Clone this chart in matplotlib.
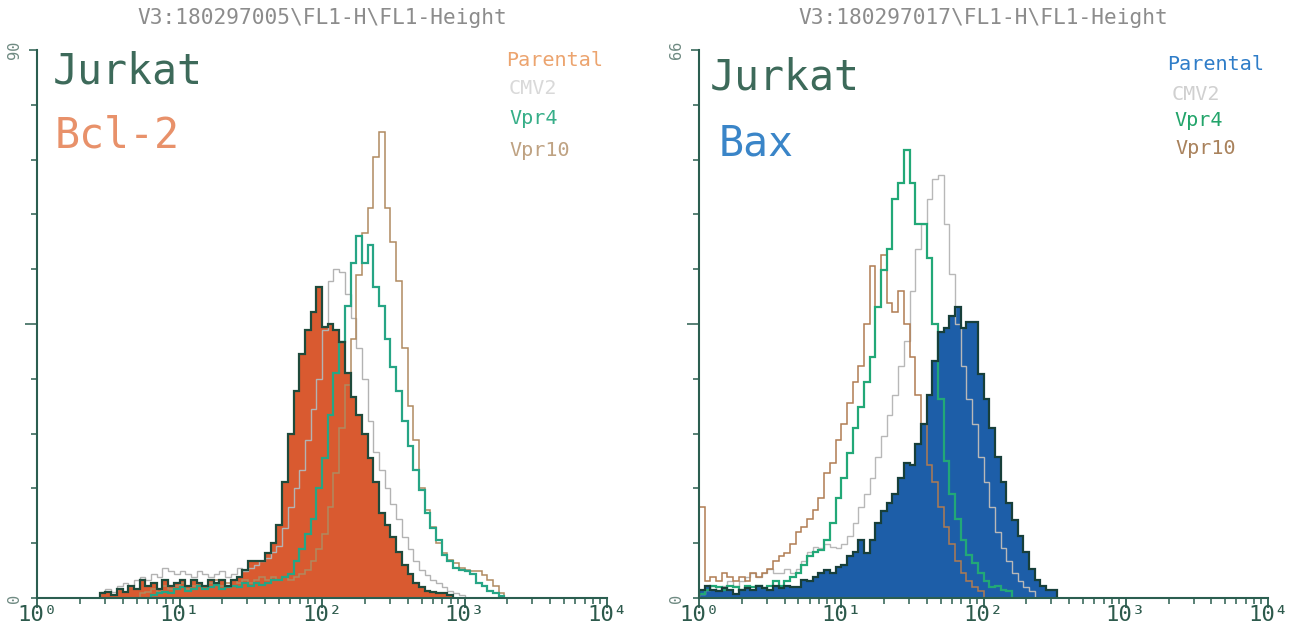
import numpy as np
import matplotlib
matplotlib.use("Agg")
import matplotlib.pyplot as plt

plt.rcParams['font.family'] = ['DejaVu Sans Mono', 'DejaVu Sans']

# ---------------- data ----------------
BIN_DECADES = 0.04   # width of one histogram channel, in decades of FL1-H

titles = ["V3:180297005\\FL1-H\\FL1-Height", "V3:180297017\\FL1-H\\FL1-Height"]
cell_line = "Jurkat"
proteins = ["Bcl-2", "Bax"]
series_names = ["Parental", "CMV2", "Vpr4", "Vpr10"]
y_max = [90, 66]
x_tick_values = [1, 10, 100, 1000, 10000]
x_tick_labels = ["10⁰", "10¹", "10²", "10³", "10⁴"]

# Left panel: Bcl-2 (counts per channel, first channel index given separately)
bcl2_parental_first = 11
bcl2_parental = [0.8, 1.0, 0.5, 1.5, 1.0, 2.0, 1.5, 3.0, 2.0, 2.5, 1.5, 3.0, 2.0, 2.5,
                 3.0, 2.0, 3.0, 2.5, 2.0, 3.0, 2.5, 3.0, 2.0, 3.0, 3.5, 4.6, 6.0, 6.0,
                 6.0, 7.4, 9.0, 12.0, 19.0, 27.0, 34.0, 40.0, 44.0, 47.0, 51.0, 44.5,
                 45.0, 44.0, 42.0, 37.0, 33.0, 30.0, 27.0, 23.0, 19.0, 14.0, 12.0, 10.0,
                 7.5, 5.5, 4.0, 2.5, 1.8, 1.2, 1.0, 0.8, 0.8, 0.5]
bcl2_cmv2_first = 11
bcl2_cmv2 = [1.0, 1.5, 1.0, 2.0, 2.5, 2.0, 3.0, 3.5, 3.0, 4.0, 3.5, 5.0, 4.5, 4.0,
             4.5, 4.0, 3.5, 4.5, 4.0, 3.5, 4.0, 4.5, 3.5, 4.0, 5.0, 4.5, 5.0, 5.5,
             6.0, 6.5, 7.5, 8.5, 11.5, 15.0, 18.0, 21.0, 26.0, 31.0, 36.0, 44.0,
             52.0, 54.0, 53.5, 50.0, 46.0, 41.0, 36.0, 29.0, 24.0, 21.0, 18.0, 15.5,
             13.0, 10.0, 8.0, 6.0, 4.6, 3.8, 3.0, 2.5, 1.8, 1.2, 0.8, 0.5]
bcl2_vpr4_first = 20
bcl2_vpr4 = [0.5, 0.8, 1.0, 0.8, 1.5, 1.8, 1.2, 1.5, 2.0, 1.5, 1.8, 2.2, 1.5, 1.8,
             2.0, 1.8, 2.5, 2.0, 2.5, 2.2, 2.5, 3.0, 3.0, 3.5, 4.0, 6.0, 8.0, 10.5,
             13.0, 18.0, 23.0, 30.0, 37.0, 42.0, 48.0, 55.0, 59.5, 55.0, 58.0, 51.0,
             48.0, 42.5, 38.0, 34.0, 29.0, 25.0, 21.0, 17.8, 14.0, 11.5, 9.5, 7.0,
             6.0, 5.0, 4.6, 4.5, 4.0, 2.5, 2.0, 1.2, 0.8, 0.4]
bcl2_vpr10_first = 18
bcl2_vpr10 = [0.8, 1.0, 1.5, 1.0, 2.0, 1.5, 2.0, 2.5, 1.5, 2.0, 2.5, 2.0, 2.5, 3.0,
              2.0, 2.5, 3.0, 2.5, 3.0, 2.5, 3.0, 3.5, 3.0, 3.5, 3.0, 3.5, 3.0, 3.5,
              4.0, 4.6, 6.0, 8.0, 10.5, 15.0, 20.5, 28.0, 35.0, 42.5, 53.0, 60.0,
              64.0, 72.5, 76.5, 64.0, 58.5, 52.0, 41.0, 31.5, 26.0, 18.0, 14.5, 11.7,
              9.0, 7.4, 6.2, 5.8, 5.0, 4.6, 4.5, 4.5, 3.8, 3.0, 2.0, 0.8]

# Right panel: Bax
bax_parental_first = 0
bax_parental = [1.0, 1.5, 1.0, 0.8, 1.2, 1.0, 0.5, 1.0, 1.2, 1.0, 1.5, 1.2, 1.0, 1.5,
                1.2, 1.5, 1.3, 1.3, 2.2, 2.0, 2.5, 3.0, 3.4, 3.0, 3.7, 4.0, 5.0, 5.5,
                7.0, 5.4, 7.0, 9.0, 10.5, 11.5, 12.5, 14.5, 16.3, 16.0, 18.5, 21.0,
                24.5, 28.5, 32.0, 32.5, 34.0, 35.0, 32.5, 33.2, 33.2, 27.0, 24.0, 20.5,
                17.0, 14.0, 11.5, 9.4, 7.5, 5.5, 3.5, 2.2, 1.5, 1.0, 1.0]
bax_cmv2_first = 0
bax_cmv2 = [0.5, 1.0, 1.5, 1.0, 1.5, 2.0, 1.5, 2.0, 2.5, 3.0, 2.5, 3.0, 3.5, 3.0,
            3.0, 3.5, 3.0, 3.5, 4.5, 5.5, 6.2, 6.0, 6.5, 6.2, 6.0, 6.5, 7.5, 9.0,
            11.0, 12.5, 14.5, 17.0, 19.5, 22.0, 24.5, 28.0, 31.0, 37.0, 42.0, 45.0,
            48.0, 50.5, 51.0, 45.0, 39.0, 33.0, 28.0, 24.0, 21.0, 17.0, 14.0, 11.0,
            8.0, 6.0, 4.5, 3.0, 2.0, 1.3, 0.8]
bax_vpr4_first = 0
bax_vpr4 = [0.5, 1.0, 1.5, 1.3, 1.0, 1.5, 1.3, 1.0, 1.5, 1.3, 1.5, 1.2, 1.5, 2.0,
            1.5, 2.0, 2.5, 3.0, 4.0, 5.0, 5.5, 5.8, 7.0, 9.0, 12.0, 14.5, 17.5, 20.5,
            23.0, 26.0, 29.0, 35.0, 39.5, 42.0, 48.0, 50.0, 54.0, 50.0, 45.0, 45.0,
            41.0, 33.0, 24.0, 16.5, 12.5, 9.5, 7.0, 5.2, 4.2, 3.0, 2.0, 1.3, 1.5,
            1.0, 0.8]
bax_vpr10_first = 0
bax_vpr10 = [11.0, 2.0, 2.5, 2.0, 3.0, 2.5, 2.0, 2.5, 2.0, 3.0, 2.5, 3.0, 3.5, 4.5,
             5.0, 5.4, 6.5, 7.9, 8.6, 9.5, 10.6, 12.0, 15.0, 16.3, 19.0, 21.0, 23.5,
             26.0, 28.0, 33.0, 40.0, 35.0, 41.3, 35.5, 34.5, 37.0, 33.0, 29.0, 24.5,
             21.0, 16.0, 14.0, 11.0, 8.5, 6.5, 4.5, 3.0, 2.0, 1.3, 0.8]

# ---------------- styles ----------------
W, H = 1291, 630
AXIS_COLOR = "#2b5e50"
panels = [
    dict(ax_px=(37, 607), title=titles[0], ymax=y_max[0], protein=proteins[0],
         protein_color="#e8916a",
         data=[(bcl2_parental_first, bcl2_parental), (bcl2_cmv2_first, bcl2_cmv2),
               (bcl2_vpr4_first, bcl2_vpr4), (bcl2_vpr10_first, bcl2_vpr10)],
         fill="#d95a30", fill_edge="#1f4a3b",
         line_colors=[None, "#b3b3b3", "#26a585", "#b08a60"],
         legend_colors=["#eca46f", "#d9d9d9", "#36ae88", "#bfa282"],
         legend_px=[(506, 61), (509, 89), (509, 119), (509, 151)],
         jurkat_px=(53, 72), protein_px=(55, 136), title_x=322),
    dict(ax_px=(699, 1268), title=titles[1], ymax=y_max[1], protein=proteins[1],
         protein_color="#3a85c8",
         data=[(bax_parental_first, bax_parental), (bax_cmv2_first, bax_cmv2),
               (bax_vpr4_first, bax_vpr4), (bax_vpr10_first, bax_vpr10)],
         fill="#1d5ea8", fill_edge="#173f3a",
         line_colors=[None, "#b8b8b8", "#22a877", "#b07c52"],
         legend_colors=["#2f7dc8", "#d0d0d0", "#22a46a", "#a9825c"],
         legend_px=[(1167, 64), (1172, 95), (1174, 121), (1175, 148)],
         jurkat_px=(710, 78), protein_px=(719, 144), title_x=983),
]

fig = plt.figure(figsize=(W / 100, H / 100), dpi=100)
fig.patch.set_facecolor("white")

y_top_px, y_bot_px = 50, 598


def edges(first, n):
    return 10.0 ** (BIN_DECADES * np.arange(first, first + n + 1))


for p in panels:
    x0, x1 = p["ax_px"]
    ax = fig.add_axes([x0 / W, 1 - y_bot_px / H, (x1 - x0) / W, (y_bot_px - y_top_px) / H])
    ax.set_xscale("log")
    ax.set_xlim(1, 1e4)
    ax.set_ylim(0, p["ymax"])
    ax.set_facecolor("none")

    # parental filled histogram
    first, vals = p["data"][0]
    e = edges(first, len(vals))
    ax.stairs(vals, e, baseline=0, fill=True, color=p["fill"], lw=0, zorder=2)
    # overlay lines
    lws = [None, 1.0, 1.6, 1.1]
    for k in (1, 3, 2):
        first, vals = p["data"][k]
        ax.stairs(vals, edges(first, len(vals)), baseline=0, color=p["line_colors"][k],
                  lw=lws[k], zorder=3)
    first, vals = p["data"][0]
    ax.stairs(vals, edges(first, len(vals)), baseline=0, color=p["fill_edge"],
              lw=1.6, zorder=4)

    for s in ("top", "right"):
        ax.spines[s].set_visible(False)
    for s in ("left", "bottom"):
        ax.spines[s].set_color(AXIS_COLOR)
        ax.spines[s].set_linewidth(1.5)
        ax.spines[s].set_zorder(5)

    ax.set_xticks(x_tick_values)
    ax.set_xticklabels(x_tick_labels)
    ax.tick_params(axis="x", which="major", direction="out", length=7, width=1.3,
                   color=AXIS_COLOR, labelsize=16, labelcolor="#2d5a4c", pad=-2)
    ax.tick_params(axis="x", which="minor", direction="out", length=4, width=1.1,
                   color=AXIS_COLOR)

    yt = np.linspace(0, p["ymax"], 11)
    ax.set_yticks(yt)
    ax.set_yticklabels(["0"] + [""] * 9 + [str(p["ymax"])], rotation=90, va="center")
    ax.tick_params(axis="y", which="major", direction="out", length=4, width=1.1,
                   color=AXIS_COLOR, labelsize=11, labelcolor="#6f8a82", pad=7)
    ax.yaxis.get_major_ticks()[5].tick1line.set_markersize(9)
    ax.yaxis.get_major_ticks()[10].tick1line.set_markersize(6)
    ax.yaxis.set_minor_locator(matplotlib.ticker.NullLocator())

    fig.text(p["title_x"] / W, 1 - 18 / H, p["title"], ha="center", va="center",
             fontsize=15.2, color="#8c8c8c")
    fig.text(p["jurkat_px"][0] / W, 1 - p["jurkat_px"][1] / H, cell_line,
             ha="left", va="center", fontsize=30, color="#3d6a5a")
    fig.text(p["protein_px"][0] / W, 1 - p["protein_px"][1] / H, p["protein"],
             ha="left", va="center", fontsize=30, color=p["protein_color"])
    for name, col, (lx, ly) in zip(series_names, p["legend_colors"], p["legend_px"]):
        fig.text(lx / W, 1 - ly / H, name, ha="left", va="center", fontsize=14.5,
                 color=col)

fig.savefig("out.png", dpi=100, facecolor="white")
